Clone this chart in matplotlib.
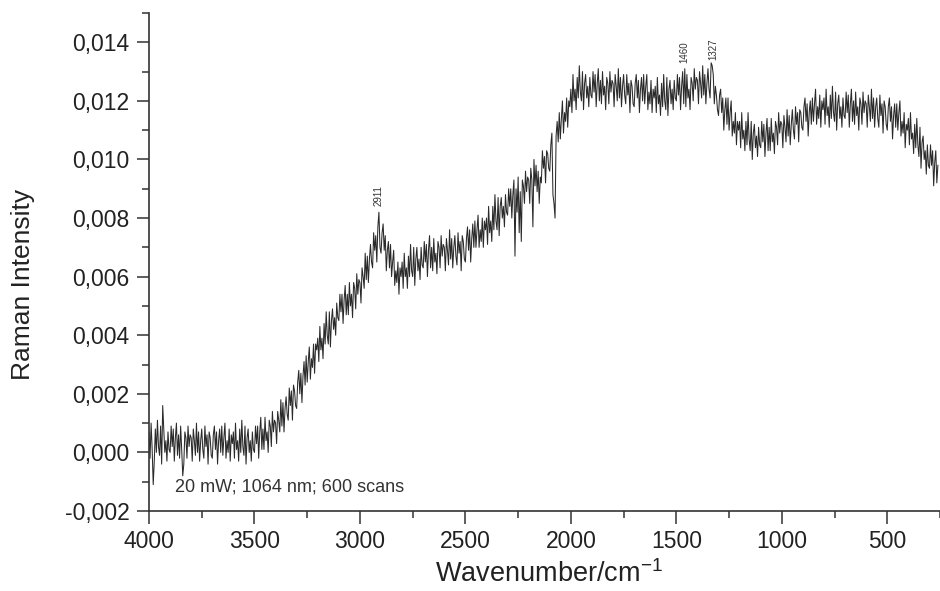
import numpy as np
import matplotlib
matplotlib.use("Agg")
import matplotlib.pyplot as plt
from matplotlib.ticker import MultipleLocator, FuncFormatter

plt.rcParams['font.family'] = ['Liberation Sans', 'DejaVu Sans']
plt.rcParams['mathtext.default'] = 'regular'

# wavenumber grid, 5 cm-1 apart
wavenumber = np.arange(4000, 259, -5)

# Raman intensity, in units of 1e-4 (one row = 100 cm-1)
intensity_e4 = [
    7, -2, 10, 1, -11, -3, 8, 0, 11, 2, -1, 9, -4, 16, 8, 0, 4, -3, 7, 1,                  # 4000
    0, 9, 2, 8, -3, 5, 10, -1, 6, -2, 9, 1, -8, -4, 7, 5, -2, 9, 2, 6,                     # 3900
    5, -3, 8, 4, -1, 10, 0, 7, -3, 4, 8, 1, -2, 9, 2, 6, -4, 7, 5, -1,                     # 3800
    -2, 6, 9, 1, 7, -4, 4, 8, 0, 9, -1, 5, 10, -2, 4, 0, 8, -3, 6, 3,                      # 3700
    7, -2, 10, 1, 4, -3, 8, 0, 11, 2, -1, 9, -4, 5, 8, 0, 4, -3, 7, 1,                     # 3600
    0, 9, 3, 9, -2, 7, 12, 1, 8, 1, 12, 4, 7, 0, 11, 9, 2, 14, 7, 11,                      # 3500
    10, 3, 14, 11, 7, 18, 9, 17, 7, 15, 19, 13, 11, 22, 16, 21, 11, 23, 21, 16,            # 3400
    15, 24, 28, 20, 27, 17, 26, 31, 23, 33, 24, 31, 36, 25, 32, 29, 37, 27, 37, 35,        # 3300
    39, 31, 43, 35, 39, 32, 44, 37, 48, 40, 37, 48, 36, 45, 49, 42, 46, 40, 51, 46,        # 3200
    45, 54, 48, 54, 44, 52, 57, 47, 54, 47, 58, 50, 54, 46, 58, 56, 49, 61, 54, 59,        # 3100
    58, 51, 63, 60, 56, 68, 59, 67, 58, 66, 71, 65, 63, 75, 69, 74, 65, 77, 82, 70,        # 3000
    68, 75, 78, 69, 74, 62, 69, 72, 63, 71, 60, 65, 69, 57, 62, 58, 65, 54, 63, 60,        # 2900
    65, 56, 68, 60, 63, 56, 67, 60, 71, 62, 60, 70, 57, 66, 70, 62, 66, 59, 70, 64,        # 2800
    63, 72, 65, 71, 60, 69, 74, 63, 70, 62, 73, 65, 68, 61, 72, 70, 63, 74, 67, 71,        # 2700
    70, 62, 73, 69, 64, 76, 66, 73, 63, 70, 74, 67, 64, 75, 68, 72, 62, 74, 72, 66,        # 2600
    65, 73, 77, 69, 76, 65, 73, 78, 70, 79, 70, 76, 81, 70, 76, 72, 80, 70, 79, 76,        # 2500
    80, 71, 84, 75, 79, 72, 84, 76, 88, 79, 76, 87, 74, 84, 87, 80, 84, 77, 88, 82,        # 2400
    81, 90, 84, 90, 80, 88, 93, 67, 90, 82, 94, 75, 89, 72, 93, 91, 85, 96, 89, 94,        # 2300
    93, 85, 97, 93, 77, 100, 91, 98, 89, 96, 85, 94, 92, 103, 97, 101, 92, 103, 102, 97,   # 2200
    96, 105, 109, 88, 85, 80, 108, 113, 106, 116, 107, 114, 120, 109, 116, 113, 121, 111, 120, 118,  # 2100
    124, 116, 129, 120, 124, 117, 128, 121, 132, 123, 120, 130, 117, 126, 129, 121, 125, 118, 128, 122,  # 2000
    121, 130, 123, 129, 118, 126, 131, 120, 127, 119, 130, 122, 125, 117, 128, 126, 119, 130, 123, 127,  # 1900
    126, 118, 129, 125, 120, 131, 121, 128, 118, 125, 129, 122, 119, 129, 122, 126, 116, 127, 125, 119,  # 1800
    118, 126, 129, 121, 127, 116, 124, 128, 120, 129, 119, 125, 129, 117, 123, 119, 127, 116, 124, 121,  # 1700
    125, 116, 128, 119, 122, 115, 126, 118, 129, 120, 117, 128, 115, 124, 127, 119, 124, 117, 127, 121,  # 1600
    120, 129, 122, 128, 117, 125, 130, 119, 131, 118, 129, 121, 124, 117, 128, 126, 120, 131, 124, 128,  # 1500
    127, 119, 130, 126, 121, 132, 122, 129, 119, 126, 131, 124, 121, 133, 132, 129, 119, 125, 122, 117,  # 1400
    115, 122, 124, 116, 121, 110, 117, 121, 112, 121, 110, 116, 120, 108, 113, 109, 116, 105, 113, 110,  # 1300
    113, 104, 116, 107, 110, 103, 113, 105, 116, 107, 103, 113, 100, 109, 112, 104, 108, 101, 111, 105,  # 1200
    104, 113, 106, 112, 101, 109, 114, 103, 111, 103, 114, 106, 109, 102, 113, 111, 105, 116, 109, 113,  # 1100
    112, 104, 115, 111, 106, 117, 108, 115, 105, 112, 117, 110, 107, 118, 112, 116, 106, 117, 116, 111,  # 1000
    110, 118, 121, 113, 119, 108, 116, 120, 112, 121, 113, 119, 124, 112, 118, 114, 122, 111, 120, 117,  # 900
    121, 112, 124, 115, 118, 111, 122, 114, 125, 116, 113, 123, 110, 119, 122, 114, 118, 111, 121, 115,  # 800
    114, 123, 116, 122, 111, 119, 124, 113, 120, 112, 123, 115, 118, 110, 121, 119, 112, 123, 116, 120,  # 700
    119, 111, 122, 118, 113, 124, 114, 121, 111, 118, 121, 114, 111, 122, 115, 119, 109, 120, 118, 112,  # 600
    110, 118, 121, 113, 118, 107, 115, 119, 111, 119, 110, 116, 120, 108, 113, 109, 116, 104, 112, 110,  # 500
    114, 105, 116, 107, 109, 102, 112, 104, 114, 105, 101, 111, 97, 106, 108, 100, 103, 95, 105, 98,     # 400
    97, 105, 98, 103, 91, 99, 103, 92, 98,                                                               # 300-260
]

peak_positions = [2911, 1460, 1327]
peak_label_heights = [0.0084, 0.0133, 0.0134]
note_text = "20 mW; 1064 nm; 600 scans"


def comma_fmt(v, pos):
    """Tick labels with a decimal comma, like the original."""
    return f"{v:.3f}".replace('.', ',')


def main():
    intensity = np.array(intensity_e4) * 1e-4

    fig = plt.figure(figsize=(9.4, 5.91), dpi=100)
    ax = fig.add_axes([149 / 940, 80 / 591, 791 / 940, 498 / 591])

    ax.plot(wavenumber, intensity, color='#2a2a2a', lw=0.75)

    ax.set_xlim(4000, 250)
    ax.set_ylim(-0.002, 0.015)

    ax.xaxis.set_major_locator(MultipleLocator(500))
    ax.xaxis.set_minor_locator(MultipleLocator(250))
    ax.yaxis.set_major_locator(MultipleLocator(0.002))
    ax.yaxis.set_minor_locator(MultipleLocator(0.001))
    ax.yaxis.set_major_formatter(FuncFormatter(comma_fmt))

    for side in ['top', 'right']:
        ax.spines[side].set_visible(False)
    for side in ['left', 'bottom']:
        ax.spines[side].set_linewidth(1.2)
        ax.spines[side].set_color('#333333')

    ax.tick_params(which='major', direction='out', length=9, width=1.1,
                   color='#333333', labelsize=16.5, labelcolor='#222222', pad=5)
    ax.tick_params(which='minor', direction='out', length=5, width=1.1,
                   color='#333333')

    for pos, h in zip(peak_positions, peak_label_heights):
        ax.text(pos, h, str(pos), rotation=90, fontsize=7, ha='center',
                va='bottom', color='#333333')

    ax.text(3877, -0.00133, note_text, fontsize=13, color='#333333',
            va='baseline', ha='left')

    fig.text(23 / 940, 1 - 284 / 591, 'Raman Intensity', rotation=90,
             fontsize=19, ha='center', va='center', color='#222222')
    fig.text(549 / 940, 3 / 591, r'Wavenumber/cm$^{-1}$', fontsize=19.5,
             ha='center', va='bottom', color='#222222')

    fig.savefig('out.png', dpi=100, facecolor='white')


if __name__ == "__main__":
    main()
